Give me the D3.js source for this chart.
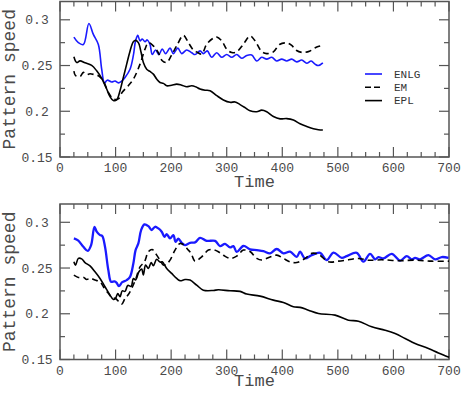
<!DOCTYPE html>
<html>
<head>
<meta charset="utf-8">
<script src="https://cdn.jsdelivr.net/npm/d3@7"></script>
<style>
  body { margin: 0; background: #fff; }
  text { font-family: "Liberation Mono", "DejaVu Sans Mono", monospace; }
</style>
</head>
<body>
<script>

var width = 463,
    height = 393;

// top panel (runs to t = 473)
var topEnlgT = [25,33,42,52,60,69,75,80,85,93,99,105,111,117,126,132,136,140,144,148,153,157,162,166,172,178,184,190,198,204,212,219,228,237,243,252,258,265,273,282,291,300,309,318,327,336,345,354,363,372,381,390,399,408,417,426,435,444,452,459,465,473];
var topEnlgV = [0.281,0.275,0.273,0.296,0.284,0.273,0.246,0.231,0.234,0.232,0.233,0.231,0.233,0.237,0.246,0.261,0.277,0.283,0.277,0.279,0.276,0.278,0.273,0.262,0.267,0.262,0.268,0.263,0.269,0.263,0.269,0.263,0.267,0.264,0.262,0.266,0.263,0.266,0.259,0.264,0.259,0.262,0.259,0.262,0.258,0.261,0.2615,0.255,0.259,0.257,0.259,0.255,0.257,0.255,0.257,0.254,0.256,0.2525,0.255,0.2515,0.250,0.253];

var topEmT = [25,28,36,42,48,54,62,70,78,87,96,105,112,123,132,144,153,159,168,177,184,192,200,210,222,231,240,247,255,264,276,282,291,300,309,318,330,342,351,363,372,384,395,408,417,425,437,450,462,473];
var topEmV = [0.244,0.239,0.238,0.2425,0.240,0.241,0.240,0.2385,0.233,0.2207,0.2135,0.2135,0.2207,0.228,0.235,0.2515,0.268,0.275,0.2715,0.264,0.2552,0.2533,0.2605,0.2715,0.283,0.275,0.267,0.2645,0.2625,0.2733,0.280,0.2812,0.277,0.2678,0.2642,0.265,0.2733,0.2823,0.277,0.2653,0.263,0.265,0.273,0.2747,0.272,0.2667,0.2642,0.266,0.2703,0.272];

var topEplT = [25,30,36,45,57,66,75,84,90,96,102,108,114,120,126,132,136,141,146,150,156,162,168,174,180,186,192,201,210,219,228,237,245,252,261,270,282,294,306,315,324,333,342,354,363,372,384,396,408,420,432,444,456,465,473];
var topEplV = [0.2595,0.2533,0.2551,0.253,0.2502,0.2442,0.236,0.2243,0.216,0.2117,0.2125,0.2225,0.237,0.2515,0.2657,0.2761,0.2775,0.275,0.2642,0.2533,0.246,0.2435,0.2406,0.2352,0.2315,0.2305,0.2279,0.2285,0.2297,0.2285,0.2268,0.2279,0.2265,0.2243,0.223,0.2225,0.2171,0.2124,0.2098,0.2102,0.2073,0.204,0.2005,0.1995,0.2012,0.1995,0.1942,0.1917,0.192,0.1905,0.1863,0.1834,0.1809,0.1798,0.1795];

// bottom panel (runs to t = 700)
var botEnlgT = [25,33,42,50,56,62,66,72,76,81,87,92,98,102,106,112,120,126,132,136,141,146,152,159,165,171,177,183,188,192,198,204,208,213,219,225,234,243,252,264,279,288,297,306,312,318,330,342,354,366,378,390,402,414,426,432,441,453,468,480,492,507,516,534,546,558,567,573,582,597,612,624,633,639,648,663,675,687,699];
var botEnlgV = [0.2824,0.2799,0.2732,0.2688,0.2751,0.2951,0.2897,0.286,0.285,0.2732,0.2477,0.2349,0.2355,0.2338,0.2302,0.2345,0.2368,0.2404,0.255,0.2696,0.2769,0.2915,0.2977,0.2958,0.2915,0.2951,0.2933,0.2897,0.2842,0.2871,0.2824,0.286,0.2787,0.282,0.2776,0.2751,0.2776,0.278,0.283,0.2797,0.2797,0.274,0.2765,0.2725,0.274,0.2677,0.2741,0.2705,0.2696,0.2685,0.266,0.2708,0.266,0.2678,0.2623,0.2678,0.2605,0.2641,0.2666,0.2586,0.2669,0.2611,0.263,0.2666,0.257,0.2655,0.2595,0.262,0.2605,0.2655,0.2582,0.263,0.2595,0.261,0.2595,0.2641,0.2595,0.262,0.2612];

var botEmT = [25,33,42,48,54,63,72,80,87,93,100,106,111,117,123,129,136,144,152,159,166,172,180,186,192,198,207,216,222,230,236,243,255,267,276,285,294,306,318,330,342,354,363,378,390,402,414,426,441,453,465,483,501,519,537,555,579,609,639,669,700];
var botEmV = [0.2422,0.2397,0.240,0.2375,0.239,0.2368,0.2349,0.2277,0.2223,0.2179,0.2167,0.2131,0.2105,0.2167,0.221,0.2277,0.2375,0.2513,0.2568,0.2677,0.2703,0.2659,0.2586,0.2532,0.2545,0.2586,0.2696,0.2769,0.2755,0.2703,0.2659,0.2575,0.2623,0.2696,0.270,0.2678,0.264,0.2605,0.263,0.2696,0.268,0.2605,0.2587,0.262,0.2641,0.2605,0.2568,0.256,0.2605,0.266,0.265,0.2568,0.2575,0.259,0.2605,0.2585,0.259,0.258,0.2586,0.2575,0.2575];

var botEplT = [25,28,33,39,45,54,63,72,81,90,96,100,104,108,112,117,122,128,132,136,142,147,150,154,159,164,168,174,180,184,192,201,210,216,225,234,246,258,276,285,306,324,336,360,384,402,420,432,447,465,495,519,537,561,585,603,621,639,663,681,700];
var botEplV = [0.2568,0.2532,0.2605,0.260,0.2559,0.2523,0.2459,0.2386,0.2295,0.2204,0.2156,0.217,0.2222,0.2186,0.225,0.2245,0.231,0.230,0.2386,0.237,0.2459,0.249,0.2423,0.2532,0.2495,0.2559,0.2525,0.2595,0.2565,0.2568,0.2496,0.2441,0.2386,0.2362,0.2374,0.2368,0.2313,0.2258,0.2255,0.2262,0.2251,0.2245,0.2215,0.2193,0.2149,0.2124,0.2076,0.207,0.2039,0.2003,0.1985,0.193,0.1919,0.1857,0.182,0.1784,0.173,0.1675,0.162,0.1572,0.1525];

var xTicks = [0, 100, 200, 300, 400, 500, 600, 700],
    yTicks = [0.15, 0.2, 0.25, 0.3],
    yTickLabels = ["0.15", "0.2", "0.25", "0.3"];

var legendNames = ["ENLG", "EM", "EPL"];

var svg = d3.select("body").append("svg")
    .attr("width", width)
    .attr("height", height);

var frameColor = "#555",
    textColor = "#4a4a4a";

var x = d3.scaleLinear()
    .domain([0, 700])
    .range([60, 449]);

function zip(ts, vs) {
    return ts.map(function(t, i) { return [t, vs[i]]; });
}

function drawPanel(top, series, showLegend) {
    var bottom = top + 155.5;
    var y = d3.scaleLinear()
        .domain([0.15, 0.32])
        .range([bottom, top]);

    var g = svg.append("g");

    // minor + major ticks on all four sides, pointing in
    var xMinor = d3.range(0, 701, 25),
        yMinor = d3.range(0.15, 0.3201, 0.025);

    xMinor.forEach(function(t) {
        var len = (t % 100 == 0) ? 10 : 5;
        g.append("line").attr("x1", x(t)).attr("x2", x(t))
            .attr("y1", bottom).attr("y2", bottom - len)
            .attr("stroke", frameColor).attr("stroke-width", 1.2);
        g.append("line").attr("x1", x(t)).attr("x2", x(t))
            .attr("y1", top).attr("y2", top + len)
            .attr("stroke", frameColor).attr("stroke-width", 1.2);
    });
    yMinor.forEach(function(v) {
        var major = Math.abs(Math.round(v / 0.05) * 0.05 - v) < 1e-6;
        var len = major ? 10 : 5;
        g.append("line").attr("x1", x(0)).attr("x2", x(0) + len)
            .attr("y1", y(v)).attr("y2", y(v))
            .attr("stroke", frameColor).attr("stroke-width", 1.2);
        g.append("line").attr("x1", x(700)).attr("x2", x(700) - len)
            .attr("y1", y(v)).attr("y2", y(v))
            .attr("stroke", frameColor).attr("stroke-width", 1.2);
    });

    g.append("rect")
        .attr("x", x(0)).attr("y", top)
        .attr("width", x(700) - x(0)).attr("height", bottom - top)
        .attr("fill", "none")
        .attr("stroke", frameColor)
        .attr("stroke-width", 1.5);

    g.selectAll(".xlab")
        .data(xTicks)
        .enter().append("text")
            .attr("x", function(d) { return x(d); })
            .attr("y", bottom + 15)
            .attr("text-anchor", "middle")
            .attr("font-size", "13px")
            .attr("fill", textColor)
            .text(function(d) { return d; });

    g.selectAll(".ylab")
        .data(yTicks)
        .enter().append("text")
            .attr("x", 37)
            .attr("y", function(d) { return y(d); })
            .attr("dy", "0.35em")
            .attr("text-anchor", "middle")
            .attr("font-size", "13px")
            .attr("fill", textColor)
            .text(function(d, i) { return yTickLabels[i]; });

    g.append("text")
        .attr("x", x(350))
        .attr("y", Math.min(bottom + 30, 386))
        .attr("text-anchor", "middle")
        .attr("font-size", "17px")
        .attr("fill", textColor)
        .text("Time");

    g.append("text")
        .attr("transform", "translate(15," + ((top + bottom) / 2) + ") rotate(-90)")
        .attr("text-anchor", "middle")
        .attr("font-size", "18px")
        .attr("fill", textColor)
        .text("Pattern speed");

    var line = d3.line()
        .x(function(d) { return x(d[0]); })
        .y(function(d) { return y(d[1]); })
        .curve(d3.curveCatmullRom);

    series.forEach(function(s) {
        g.append("path")
            .datum(s.data)
            .attr("d", line)
            .attr("fill", "none")
            .attr("stroke", s.color)
            .attr("stroke-width", s.width)
            .attr("stroke-dasharray", s.dash)
            .attr("stroke-linejoin", "round");
    });

    if (showLegend) {
        var lg = g.append("g");
        series.forEach(function(s, i) {
            var ly = 74 + i * 13.3;
            lg.append("line")
                .attr("x1", 365).attr("x2", 382)
                .attr("y1", ly).attr("y2", ly)
                .attr("stroke", s.color)
                .attr("stroke-width", 1.6)
                .attr("stroke-dasharray", s.dash ? "6,3" : null);
            lg.append("text")
                .attr("x", 394).attr("y", ly)
                .attr("dy", "0.35em")
                .attr("font-size", "11px")
                .attr("fill", "#333")
                .text(legendNames[i]);
        });
    }
}

drawPanel(1.5, [
    { data: zip(topEnlgT, topEnlgV), color: "#1a1aff", width: 1.6, dash: null },
    { data: zip(topEmT, topEmV), color: "#000", width: 1.6, dash: "6,4" },
    { data: zip(topEplT, topEplV), color: "#000", width: 1.6, dash: null }
], true);

drawPanel(204, [
    { data: zip(botEnlgT, botEnlgV), color: "#1a1aff", width: 2.3, dash: null },
    { data: zip(botEmT, botEmV), color: "#000", width: 1.6, dash: "6,4" },
    { data: zip(botEplT, botEplV), color: "#000", width: 1.6, dash: null }
], false);

</script>
</body>
</html>
